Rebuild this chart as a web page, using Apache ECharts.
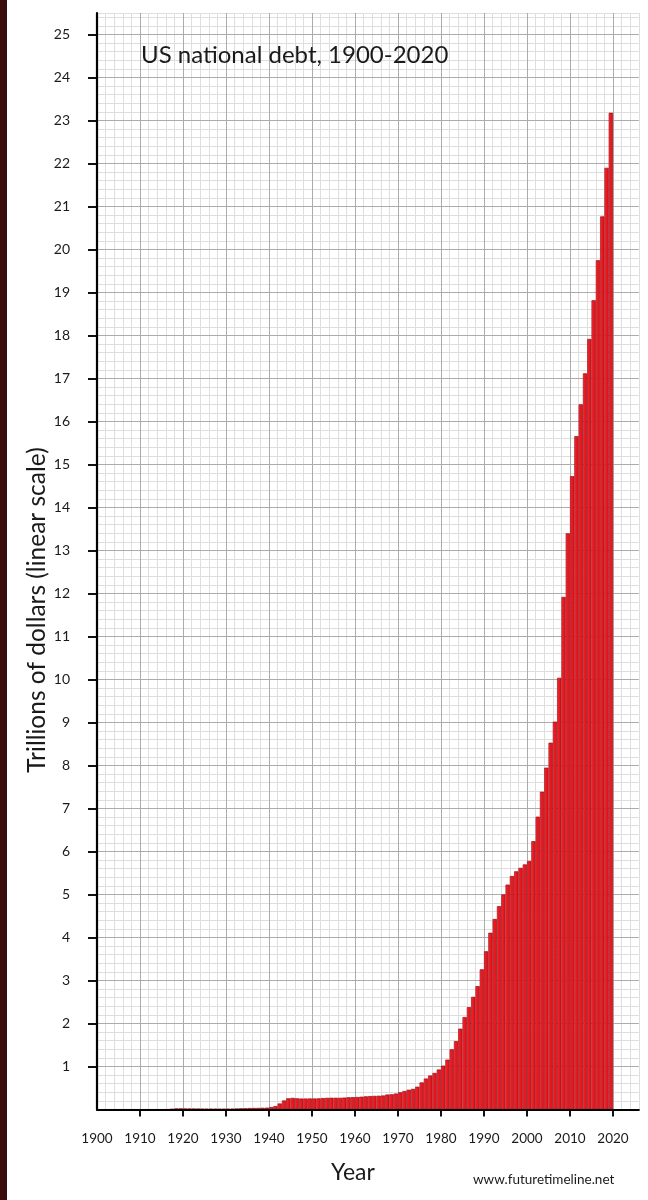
<!DOCTYPE html>
<html>
<head>
<meta charset="utf-8">
<script src="https://cdn.jsdelivr.net/npm/echarts@6/dist/echarts.min.js"></script>
<style>
html,body{margin:0;padding:0;background:#fff;}
#c{width:648px;height:1200px;}
</style>
</head>
<body>
<div id="c"></div>
<script>
// ---- data ----
const years = [1901,1902,1903,1904,1905,1906,1907,1908,1909,1910,
1911,1912,1913,1914,1915,1916,1917,1918,1919,1920,
1921,1922,1923,1924,1925,1926,1927,1928,1929,1930,
1931,1932,1933,1934,1935,1936,1937,1938,1939,1940,
1941,1942,1943,1944,1945,1946,1947,1948,1949,1950,
1951,1952,1953,1954,1955,1956,1957,1958,1959,1960,
1961,1962,1963,1964,1965,1966,1967,1968,1969,1970,
1971,1972,1973,1974,1975,1976,1977,1978,1979,1980,
1981,1982,1983,1984,1985,1986,1987,1988,1989,1990,
1991,1992,1993,1994,1995,1996,1997,1998,1999,2000,
2001,2002,2003,2004,2005,2006,2007,2008,2009,2010,
2011,2012,2013,2014,2015,2016,2017,2018,2019,2020];
// trillions of dollars
const debt = [0.001,0.001,0.001,0.001,0.001,0.001,0.001,0.001,0.001,0.001,
0.001,0.001,0.001,0.001,0.001,0.001,0.003,0.012,0.025,0.026,
0.024,0.023,0.022,0.021,0.020,0.019,0.018,0.018,0.017,0.016,
0.017,0.019,0.023,0.027,0.029,0.034,0.036,0.037,0.040,0.043,
0.058,0.080,0.140,0.210,0.260,0.270,0.260,0.255,0.255,0.257,
0.256,0.259,0.266,0.271,0.274,0.273,0.272,0.277,0.285,0.287,
0.290,0.298,0.306,0.312,0.317,0.320,0.326,0.348,0.354,0.371,
0.400,0.430,0.460,0.480,0.530,0.630,0.720,0.790,0.850,0.930,
1.02,1.16,1.40,1.59,1.88,2.15,2.38,2.62,2.87,3.26,
3.68,4.11,4.43,4.73,5.00,5.23,5.43,5.54,5.62,5.70,
5.78,6.24,6.81,7.39,7.95,8.53,9.02,10.04,11.92,13.40,
14.73,15.66,16.40,17.12,17.92,18.82,19.75,20.77,21.90,23.18];
const xTickLabels = ['1900','1910','1920','1930','1940','1950','1960','1970','1980','1990','2000','2010','2020'];
const yTickLabels = ['1','2','3','4','5','6','7','8','9','10','11','12','13','14','15','16','17','18','19','20','21','22','23','24','25'];
const titleText = 'US national debt, 1900-2020';
const yTitle = 'Trillions of dollars (linear scale)';
const xTitle = 'Year';
const credit = 'www.futuretimeline.net';

// ---- layout ----
const FONT = 'Lato, "Open Sans", sans-serif';
const xMin = 1900, xMaxGrid = 2026, xMaxMajor = 2020;
const yMaxGrid = 25.5, yMaxMajor = 25;
const pxYear = 4.3, pxUnit = 43;
const left = 97, baseY = 1109.5;
const fullW = (xMaxGrid - xMin) * pxYear;
const majW = (xMaxMajor - xMin) * pxYear;
const fullH = yMaxGrid * pxUnit;
const top0 = baseY - fullH;

const barData = years.map((y, i) => [y - 0.5, debt[i]]);

const chart = echarts.init(document.getElementById('c'), null, {renderer:'canvas'});
chart.setOption({
  animation: false,
  backgroundColor: '#ffffff',
  grid: [
    {left: left, top: top0, width: fullW, height: fullH},
    {left: left, top: top0, width: majW, height: fullH},
    {left: left, top: baseY - yMaxMajor*pxUnit, width: fullW, height: (yMaxMajor-1)*pxUnit},
    {left: left, top: top0, width: fullW, height: fullH}
  ],
  xAxis: [
    {gridIndex:0, type:'value', min:xMin, max:xMaxGrid, interval:2, z:0,
     axisLine:{show:false}, axisTick:{show:false}, axisLabel:{show:false},
     splitLine:{show:true, lineStyle:{color:'#dedede', width:1}}},
    {gridIndex:1, type:'value', min:xMin, max:xMaxMajor, interval:10, z:1,
     axisLine:{show:false},
     axisTick:{show:true, inside:false, length:7, lineStyle:{color:'#111', width:2},
       customValues:[1910,1920,1930,1940,1950,1960,1970,1980,1990,2000,2010,2020]},
     axisLabel:{show:true, margin:22, fontFamily:FONT, fontSize:13.5, color:'#1a1a1a',
       formatter: v => { const s = String(Math.round(v)); return xTickLabels.indexOf(s) >= 0 ? s : ''; }},
     splitLine:{show:true, lineStyle:{color:'#ababab', width:1}}},
    {gridIndex:2, type:'value', min:xMin, max:xMaxGrid, show:false},
    {gridIndex:3, type:'value', min:xMin, max:xMaxGrid, z:10,
     axisLine:{show:true, onZero:false, lineStyle:{color:'#000', width:2.2}},
     axisTick:{show:false}, axisLabel:{show:false}, splitLine:{show:false}}
  ],
  yAxis: [
    {gridIndex:0, type:'value', min:0, max:yMaxGrid, interval:0.2, z:0,
     axisLine:{show:false}, axisTick:{show:false}, axisLabel:{show:false},
     splitLine:{show:true, lineStyle:{color:'#dedede', width:1}}},
    {gridIndex:1, type:'value', min:0, max:yMaxGrid, show:false},
    {gridIndex:2, type:'value', min:1, max:yMaxMajor, interval:1, z:1,
     axisLine:{show:false},
     axisTick:{show:true, inside:false, length:9, lineStyle:{color:'#111', width:2}},
     axisLabel:{show:true, margin:27, fontFamily:FONT, fontSize:14, color:'#1a1a1a',
       formatter: v => { const s = String(Math.round(v)); return yTickLabels.indexOf(s) >= 0 ? s : ''; }},
     splitLine:{show:true, lineStyle:{color:'#ababab', width:1}}},
    {gridIndex:3, type:'value', min:0, max:yMaxGrid, z:10,
     axisLine:{show:true, onZero:false, lineStyle:{color:'#000', width:2.2}},
     axisTick:{show:false}, axisLabel:{show:false}, splitLine:{show:false}}
  ],
  series: [{
    type:'bar', xAxisIndex:0, yAxisIndex:0, z:2,
    data: barData,
    barWidth: pxYear,
    itemStyle:{
      color: new echarts.graphic.LinearGradient(0, 0, 1, 0, [
        {offset:0, color:'#f4575c'},
        {offset:0.35, color:'#ec1a22'},
        {offset:1, color:'#dc121a'}
      ]),
      borderColor:'#a00c12', borderWidth:0.7},
    emphasis:{disabled:true}
  }],
  graphic: [
    {type:'rect', left:0, top:0, shape:{width:7, height:1200}, style:{fill:'#3b0c0c'}, z:100},
    {type:'text', x:141, y:55, z:100,
     style:{text:titleText, font:'24px ' + FONT, fill:'#1a1a1a', textAlign:'left', textVerticalAlign:'middle'}},
    {type:'text', x:37, y:610, rotation:Math.PI/2, z:100,
     style:{text:yTitle, font:'24.5px ' + FONT, fill:'#1a1a1a', textAlign:'center', textVerticalAlign:'middle'}},
    {type:'text', x:353, y:1173, z:100,
     style:{text:xTitle, font:'23px ' + FONT, fill:'#1a1a1a', textAlign:'center', textVerticalAlign:'middle'}},
    {type:'text', x:473, y:1180, z:100,
     style:{text:credit, font:'13.5px ' + FONT, fill:'#1a1a1a', textAlign:'left', textVerticalAlign:'middle'}}
  ]
});
</script>
</body>
</html>
